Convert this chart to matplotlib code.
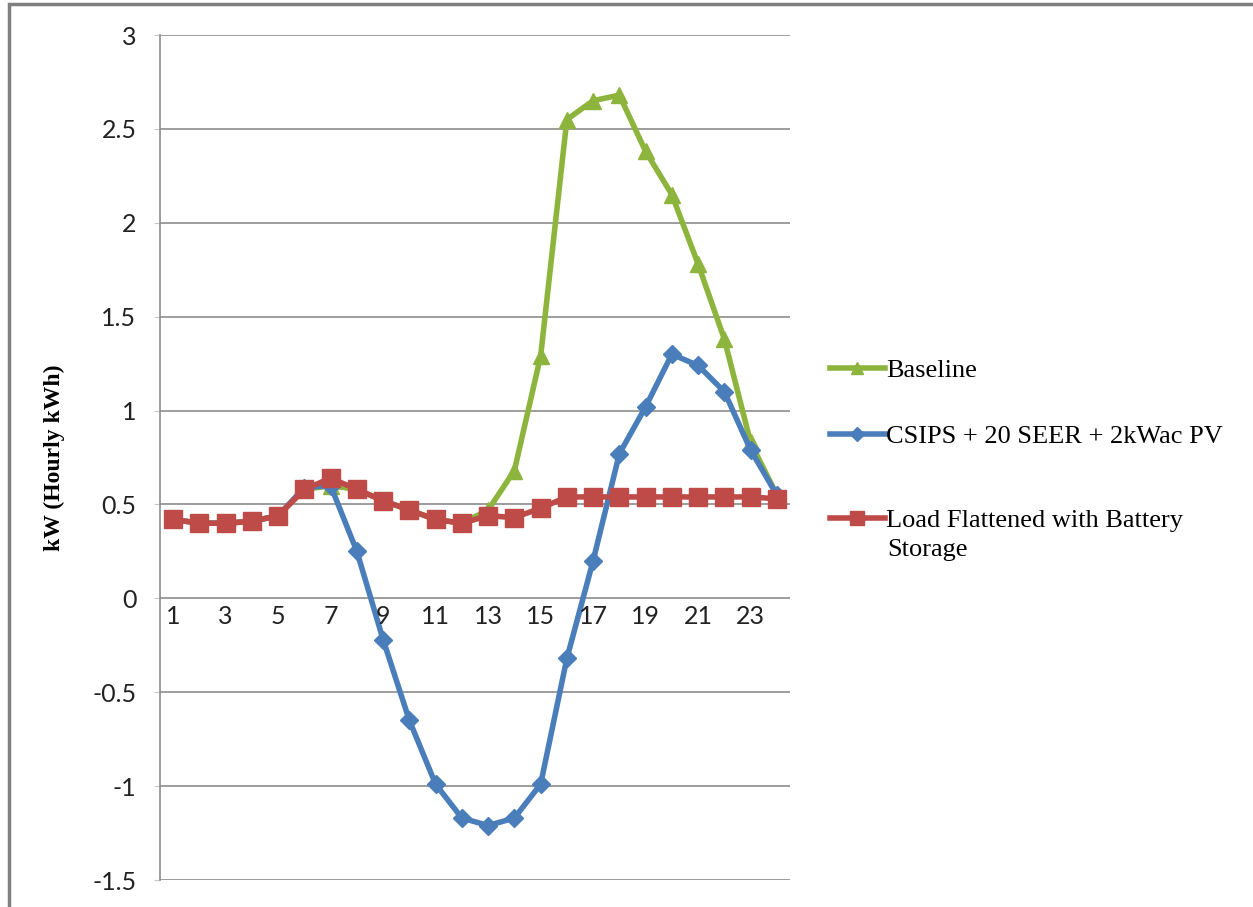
import matplotlib.pyplot as plt
from matplotlib.patches import Rectangle

hours = list(range(1, 25))
baseline = [0.42, 0.40, 0.40, 0.41, 0.44, 0.58, 0.60, 0.58, 0.52, 0.47, 0.42, 0.40,
            0.47, 0.68, 1.29, 2.55, 2.65, 2.68, 2.38, 2.15, 1.78, 1.38, 0.83, 0.55]
csips = [0.42, 0.40, 0.40, 0.41, 0.44, 0.59, 0.60, 0.25, -0.22, -0.65, -0.99, -1.17,
         -1.21, -1.17, -0.99, -0.32, 0.20, 0.77, 1.02, 1.30, 1.24, 1.10, 0.79, 0.55]
flattened = [0.42, 0.40, 0.40, 0.41, 0.44, 0.58, 0.64, 0.58, 0.52, 0.47, 0.42, 0.40,
             0.44, 0.43, 0.48, 0.54, 0.54, 0.54, 0.54, 0.54, 0.54, 0.54, 0.54, 0.53]
yticks = [-1.5, -1, -0.5, 0, 0.5, 1, 1.5, 2, 2.5, 3]
ytick_labels = ['-1.5', '-1', '-0.5', '0', '0.5', '1', '1.5', '2', '2.5', '3']

fig = plt.figure(figsize=(12.53, 9.07), dpi=100)
# outer chart frame
fig.patches.append(Rectangle((9 / 1253, -0.01), 1.05, 1 - 4 / 907 + 0.01,
                             transform=fig.transFigure, fill=False,
                             edgecolor='#7f7f7f', linewidth=2.5))

ax = fig.add_axes([160 / 1253, 1 - 880 / 907, 630 / 1253, (880 - 35) / 907])

l1, = ax.plot(hours, baseline, color='#8db43c', linewidth=4, marker='^',
              markersize=11)
l2, = ax.plot(hours, csips, color='#4a7ebb', linewidth=4, marker='D',
              markersize=9)
l3, = ax.plot(hours, flattened, color='#be4b48', linewidth=4, marker='s',
              markersize=13)

ax.set_xlim(0.5, 24.5)
ax.set_ylim(-1.5, 3)
ax.set_yticks(yticks)
ax.set_yticklabels(ytick_labels)
ax.yaxis.grid(True, color='#8c8c8c', linewidth=1.2)
ax.set_axisbelow(True)

for side in ['top', 'right', 'bottom']:
    ax.spines[side].set_visible(False)
ax.spines['left'].set_color('#8c8c8c')
ax.spines['left'].set_linewidth(1.2)

ax.tick_params(axis='y', length=4, color='#c8c8c8', labelsize=18, pad=13)
ax.set_xticks([])
for h in hours[::2]:
    ax.text(h, -0.035, str(h), ha='center', va='top', fontsize=18,
            family='Lato', color='#222222')
for lab in ax.get_yticklabels():
    lab.set_family('Lato')
    lab.set_color('#222222')

ax.set_ylabel('kW (Hourly kWh)', fontsize=17, fontweight='bold',
              family='Liberation Serif')
ax.yaxis.set_label_coords(-0.151, 0.5)

# legend: Excel keeps the marker on the first line of a wrapped label
leg_kw = dict(loc='upper left', frameon=False,
              prop={'family': 'Liberation Serif', 'size': 19},
              handlelength=2.1, handletextpad=0.05, labelspacing=1.6,
              markerscale=0.75)
fig.legend([l1, l2], ['Baseline', 'CSIPS + 20 SEER + 2kWac PV'],
           bbox_to_anchor=(806 / 1253, 1 - 335 / 907), **leg_kw)
fig.legend([l3], ['Load Flattened with Battery'],
           bbox_to_anchor=(806 / 1253, 1 - 485 / 907), **leg_kw)
fig.text(887 / 1253, 1 - 550 / 907, 'Storage', ha='left', va='center',
         family='Liberation Serif', fontsize=19)

fig.savefig('out.png', dpi=100)
